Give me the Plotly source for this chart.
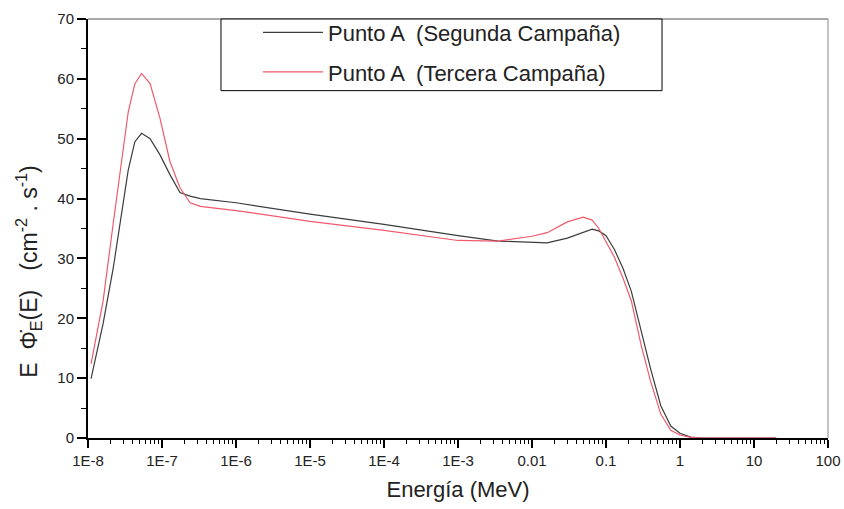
import plotly.graph_objects as go

# Neutron fluence-rate spectrum (lethargy representation), point A
energia_mev = [1.1e-8, 1.6e-8, 2.2e-8, 3.5e-8, 4.3e-8, 5.3e-8, 6.9e-8, 9.4e-8,
               1.28e-7, 1.75e-7, 2.4e-7, 3.3e-7, 1e-6, 1e-5, 1e-4, 1e-3,
               3.5e-3, 1e-2, 1.6e-2, 3e-2, 4.9e-2, 6.5e-2, 8e-2, 0.1, 0.13,
               0.17, 0.22, 0.3, 0.4, 0.55, 0.75, 1.0, 1.4, 2.0, 5.0, 20.0]

segunda = [9.9, 19.1, 28.5, 44.8, 49.5, 50.9, 50.0, 47.3, 44.0, 41.0, 40.4,
           40.0, 39.3, 37.4, 35.7, 33.8, 32.9, 32.7, 32.6, 33.4, 34.3, 34.9,
           34.6, 33.8, 31.5, 28.3, 24.5, 17.7, 11.6, 5.4, 2.0, 0.8, 0.15,
           0.0, 0.0, 0.0]

tercera = [12.4, 22.9, 36.0, 54.5, 59.2, 60.9, 59.2, 53.4, 46.2, 41.8, 39.3,
           38.7, 38.0, 36.2, 34.7, 33.0, 32.9, 33.7, 34.3, 36.1, 36.9, 36.4,
           35.0, 32.8, 30.2, 26.7, 22.9, 15.4, 9.5, 4.0, 1.3, 0.5, 0.1,
           0.0, 0.0, 0.0]

nombres = ["Punto A  (Segunda Campaña)", "Punto A  (Tercera Campaña)"]

x_ticks = [1e-8, 1e-7, 1e-6, 1e-5, 1e-4, 1e-3, 1e-2, 1e-1, 1, 10, 100]
x_labels = ["1E-8", "1E-7", "1E-6", "1E-5", "1E-4", "1E-3",
            "0.01", "0.1", "1", "10", "100"]

minor_x = [m * 10 ** d for d in range(-8, 2) for m in range(2, 10)]

FONT = "Liberation Sans, Arial, sans-serif"
NB = "\u00a0"
y_title = (f"E{NB}{NB}Φ̇<sub>E</sub>(E){NB}{NB}{NB}(cm<sup>-2</sup>"
           f"{NB}.{NB}s<sup>-1</sup>)")

fig = go.Figure()
fig.add_trace(go.Scatter(x=energia_mev, y=segunda, mode="lines",
                         name=nombres[0], legendgroup="a",
                         line=dict(color="#3c3c3c", width=1.2)))
fig.add_trace(go.Scatter(x=energia_mev, y=tercera, mode="lines",
                         name=nombres[1], legendgroup="b",
                         line=dict(color="#f05a6c", width=1.2)))

fig.update_xaxes(
    type="log", range=[-8, 2], automargin=False,
    tickvals=x_ticks, ticktext=x_labels,
    ticks="outside", ticklen=8, tickwidth=1.5, tickcolor="black",
    minor=dict(tickvals=minor_x, ticks="outside", ticklen=4,
               tickwidth=1.2, tickcolor="black"),
    showline=True, linecolor="black", linewidth=2,
    showgrid=False, zeroline=False,
    tickfont=dict(family=FONT, size=15, color="#222"),
    title=dict(text="Energía (MeV)", standoff=14,
               font=dict(family=FONT, size=22, color="#222")),
)
fig.update_yaxes(
    range=[0, 70], dtick=10, automargin=False,
    ticks="outside", ticklen=9, tickwidth=1.5, tickcolor="black",
    minor=dict(dtick=5, ticks="outside", ticklen=5,
               tickwidth=1.2, tickcolor="black"),
    showline=True, linecolor="black", linewidth=2,
    showgrid=False, zeroline=False,
    tickfont=dict(family=FONT, size=15, color="#222"),
)

# y-axis title, set a little below the plot's mid-height
fig.add_annotation(text=y_title, textangle=-90, showarrow=False,
                   xref="paper", yref="paper", x=-0.081, y=0.397,
                   xanchor="center", yanchor="middle",
                   font=dict(family=FONT, size=23, color="#222"))

# thin frame on the top and right sides
fig.add_shape(type="line", xref="paper", yref="paper", x0=0, x1=1, y0=1, y1=1,
              line=dict(color="#555", width=1))
fig.add_shape(type="line", xref="paper", yref="paper", x0=1, x1=1, y0=0, y1=1,
              line=dict(color="#888", width=1))
# legend frame
fig.add_shape(type="rect", xref="paper", yref="paper",
              x0=0.1797, x1=0.7757, y0=0.829, y1=1.0, layer="above",
              fillcolor="white", line=dict(color="black", width=1))

fig.update_layout(
    width=844, height=509,
    margin=dict(l=88, r=16, t=17, b=71),
    paper_bgcolor="white", plot_bgcolor="white",
    showlegend=True,
    legend=dict(x=0.2297, y=1.0178, xanchor="left", yanchor="top",
                bgcolor="rgba(0,0,0,0)", borderwidth=0,
                font=dict(family=FONT, size=22, color="#222"),
                tracegroupgap=8, itemwidth=60),
)

fig.write_html("out.html")
